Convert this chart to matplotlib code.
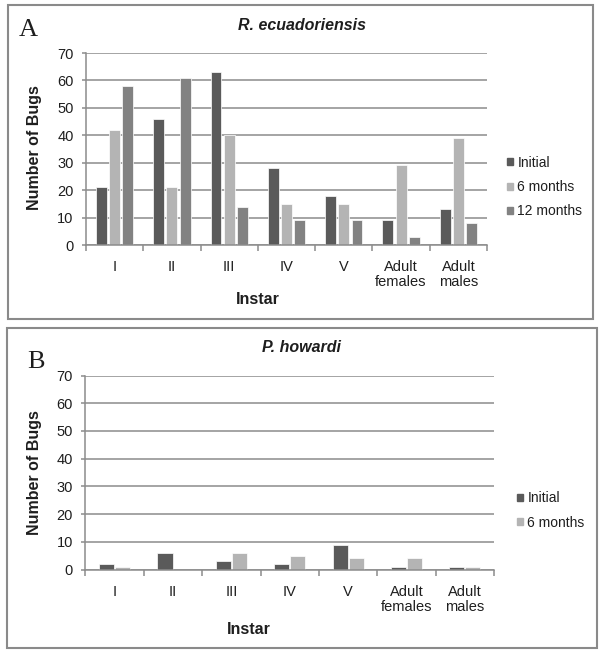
import matplotlib

matplotlib.use("Agg")
import matplotlib.pyplot as plt
from matplotlib.patches import Patch, Rectangle
import numpy as np

instars = ["I", "II", "III", "IV", "V", "Adult\nfemales", "Adult\nmales"]

ecua_initial = [21, 46, 63, 28, 18, 9, 13]
ecua_6m = [42, 21, 40, 15, 15, 29, 39]
ecua_12m = [58, 61, 14, 9, 9, 3, 8]

howardi_initial = [2, 6, 3, 2, 9, 1, 1]
howardi_6m = [1, 0, 6, 5, 4, 4, 1]

DARK = "#5a5a5a"
LIGHT = "#b4b4b4"
MID = "#828282"
LINE = "#8c8c8c"
TXT = "#1e1e1e"

plt.rcParams["font.family"] = ["Liberation Sans", "DejaVu Sans"]

W, H = 600, 655
fig = plt.figure(figsize=(6, 6.55), dpi=100)


def fx(px):
    return px / W


def fy(py):
    return 1 - py / H


def panel_box(x0, y0, x1, y1):
    fig.patches.append(Rectangle((fx(x0), fy(y1)), fx(x1 - x0), (y1 - y0) / H,
                                 transform=fig.transFigure, fill=False,
                                 edgecolor="#8a8a8a", linewidth=1.5))


def setup_axes(ax):
    ax.set_xlim(0, len(instars))
    ax.set_ylim(0, 70)
    ax.set_yticks(range(0, 71, 10))
    ax.yaxis.grid(True, color=LINE, linewidth=1.1)
    ax.set_axisbelow(True)
    for s in ["top", "right"]:
        ax.spines[s].set_visible(False)
    for s in ["left", "bottom"]:
        ax.spines[s].set_color(LINE)
        ax.spines[s].set_linewidth(1.1)
    ax.tick_params(axis="y", colors=LINE, labelcolor=TXT, labelsize=10.5,
                   length=3, width=1.1, pad=6)
    # category boundaries get tick marks, labels sit at the centres
    ax.set_xticks(np.arange(len(instars) + 1))
    ax.set_xticklabels([])
    ax.set_xticks(np.arange(len(instars)) + 0.5, minor=True)
    ax.set_xticklabels(instars, minor=True, fontsize=10.5, color=TXT,
                       linespacing=1.1)
    ax.tick_params(axis="x", which="major", colors=LINE, length=4, width=1.1)
    ax.tick_params(axis="x", which="minor", length=0, pad=11)


x = np.arange(len(instars)) + 0.5

# Panel A
panel_box(8, 5, 593, 319)
axA = fig.add_axes([fx(86), fy(245), fx(401), 192 / H])
setup_axes(axA)
wA = 0.19
axA.bar(x - 0.23, ecua_initial, wA, color=DARK, edgecolor="white", linewidth=0.5)
axA.bar(x, ecua_6m, wA, color=LIGHT, edgecolor="white", linewidth=0.5)
axA.bar(x + 0.23, ecua_12m, wA, color=MID, edgecolor="white", linewidth=0.5)

fig.text(fx(302), fy(25), "R. ecuadoriensis", ha="center", va="center",
         fontsize=11.5, fontweight="bold", fontstyle="italic", color=TXT)
fig.text(fx(28), fy(30), "A", ha="center", va="center", fontsize=19,
         family="Liberation Serif", color=TXT)
fig.text(fx(35), fy(148), "Number of Bugs", rotation=90, ha="center",
         va="center", fontsize=11.5, fontweight="bold", color=TXT)
fig.text(fx(258), fy(300), "Instar", ha="center", va="center", fontsize=11.5,
         fontweight="bold", color=TXT)

handlesA = [Patch(color=DARK, label="Initial"),
            Patch(color=LIGHT, label="6 months"),
            Patch(color=MID, label="12 months")]
fig.legend(handles=handlesA, loc="center left", bbox_to_anchor=(fx(507), fy(187)),
           frameon=False, fontsize=10, handlelength=0.4, handleheight=0.4,
           handletextpad=0.35, labelspacing=0.75, borderpad=0, borderaxespad=0,
           labelcolor=TXT)

# Panel B
panel_box(7, 328, 597, 648)
axB = fig.add_axes([fx(85.5), fy(569.5), fx(408.5), 194 / H])
setup_axes(axB)
wB = 0.26
axB.bar(x - 0.137, howardi_initial, wB, color=DARK, edgecolor="white", linewidth=0.5)
axB.bar(x + 0.137, howardi_6m, wB, color=LIGHT, edgecolor="white", linewidth=0.5)

fig.text(fx(302), fy(348), "P. howardi", ha="center", va="center",
         fontsize=11.5, fontweight="bold", fontstyle="italic", color=TXT)
fig.text(fx(36), fy(362), "B", ha="center", va="center", fontsize=19,
         family="Liberation Serif", color=TXT)
fig.text(fx(35), fy(473), "Number of Bugs", rotation=90, ha="center",
         va="center", fontsize=11.5, fontweight="bold", color=TXT)
fig.text(fx(249), fy(630), "Instar", ha="center", va="center", fontsize=11.5,
         fontweight="bold", color=TXT)

handlesB = [Patch(color=DARK, label="Initial"),
            Patch(color=LIGHT, label="6 months")]
fig.legend(handles=handlesB, loc="center left", bbox_to_anchor=(fx(517), fy(510.5)),
           frameon=False, fontsize=10, handlelength=0.4, handleheight=0.4,
           handletextpad=0.35, labelspacing=0.75, borderpad=0, borderaxespad=0,
           labelcolor=TXT)

fig.savefig("out.png", dpi=100)
plt.close(fig)
